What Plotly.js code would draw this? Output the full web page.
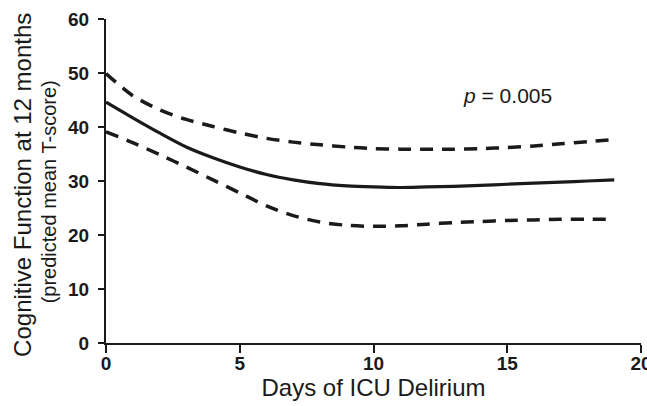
<!DOCTYPE html>
<html>
<head>
<meta charset="utf-8">
<script src="https://cdn.plot.ly/plotly-3.0.1.min.js"></script>
<style>html,body{margin:0;padding:0;background:#fff;}#chart{width:647px;height:406px;}</style>
</head>
<body>
<div id="chart"></div>
<script>
// Days of ICU delirium
const days = [0,1,2,3,4,5,6,7,8,9,10,11,12,13,14,15,16,17,18,19];
// Predicted mean T-score
const predicted = [44.6,41.7,38.9,36.3,34.3,32.6,31.2,30.2,29.5,29.1,28.9,28.8,28.9,29.0,29.2,29.4,29.6,29.8,30.0,30.2];
// Upper confidence band
const upper = [49.9,45.8,43.2,41.4,40.1,38.9,37.9,37.2,36.7,36.3,36.0,35.9,35.9,35.9,36.0,36.2,36.5,36.9,37.3,37.7];
// Lower confidence band
const lower = [39.1,37.1,34.9,32.6,30.2,27.8,25.4,23.6,22.4,21.8,21.6,21.7,22.0,22.3,22.5,22.7,22.8,22.9,22.9,22.9];
const xTicks = [0,5,10,15,20];
const yTicks = [0,10,20,30,40,50,60];

const ink = '#1a1a1a';
const fam = '"Liberation Sans", Arial, Helvetica, sans-serif';

const traces = [
  {x: days, y: upper, mode: 'lines', line: {color: ink, width: 3.5, dash: '13px,9px', shape: 'spline', smoothing: 0.8}, hoverinfo: 'skip'},
  {x: days, y: lower, mode: 'lines', line: {color: ink, width: 3.5, dash: '13px,9px', shape: 'spline', smoothing: 0.8}, hoverinfo: 'skip'},
  {x: days, y: predicted, mode: 'lines', line: {color: ink, width: 3.2, shape: 'spline', smoothing: 0.8}, hoverinfo: 'skip'}
];

const layout = {
  width: 647, height: 406,
  margin: {l: 106, r: 6, t: 19, b: 63},
  paper_bgcolor: '#fff', plot_bgcolor: '#fff',
  showlegend: false,
  font: {family: fam, color: ink},
  xaxis: {
    range: [0, 20], tickvals: xTicks, ticktext: xTicks.map(String),
    showline: true, linecolor: ink, linewidth: 2, showgrid: false, zeroline: false,
    ticks: 'outside', ticklen: 8, tickwidth: 2, tickcolor: ink,
    tickfont: {family: fam, size: 19, color: ink, weight: 'bold'},
    ticklabelstandoff: -6, ticklabeloverflow: 'allow',
    title: {text: 'Days of ICU Delirium', font: {family: fam, size: 24, color: ink}, standoff: 4}
  },
  yaxis: {
    range: [0, 60], tickvals: yTicks, ticktext: yTicks.map(String),
    showline: true, linecolor: ink, linewidth: 2, showgrid: false, zeroline: false,
    ticks: 'outside', ticklen: 6, tickwidth: 2, tickcolor: ink,
    tickfont: {family: fam, size: 19, color: ink, weight: 'bold'},
    ticklabelstandoff: 5, ticklabeloverflow: 'allow'
  },
  annotations: [
    {xref: 'paper', yref: 'paper', x: 0, y: 0.488, xshift: -83, xanchor: 'center', yanchor: 'middle',
     textangle: -90, showarrow: false, text: 'Cognitive Function at 12 months',
     font: {family: fam, size: 24, color: ink}},
    {xref: 'paper', yref: 'paper', x: 0, y: 0.465, xshift: -57, xanchor: 'center', yanchor: 'middle',
     textangle: -90, showarrow: false, text: '(predicted mean T-score)',
     font: {family: fam, size: 20, color: ink}},
    {xref: 'x', yref: 'y', x: 15, y: 45.9, xanchor: 'center', yanchor: 'middle', showarrow: false,
     text: '<i>p</i> = 0.005', font: {family: fam, size: 21, color: ink}}
  ]
};

Plotly.newPlot('chart', traces, layout, {displayModeBar: false, staticPlot: true});
</script>
</body>
</html>
